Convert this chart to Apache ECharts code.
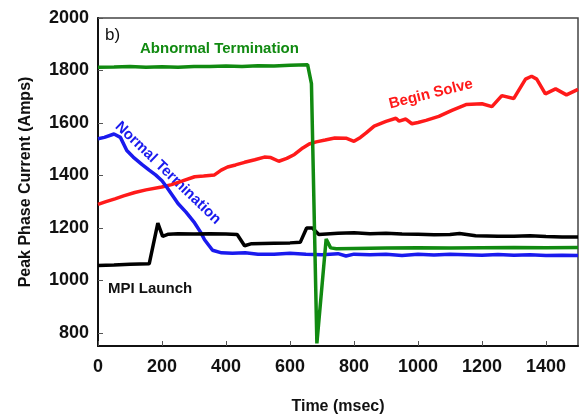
<!DOCTYPE html>
<html lang="en">
<head>
    <meta charset="UTF-8">
    <title>Peak Phase Current</title>
    <script src="https://cdn.jsdelivr.net/npm/echarts@6/dist/echarts.min.js"></script>
    <style>
        html, body { margin: 0; padding: 0; background: #fff; }
        #main { width: 579px; height: 420px; }
    </style>
</head>
<body>
<div id="main"></div>
<script>
    // values: [time msec, current amps]
    var abnormalTermination = [
        [0, 1812], [50, 1813], [100, 1815], [150, 1812], [200, 1814], [250, 1812], [300, 1815],
        [350, 1815], [400, 1817], [450, 1815], [500, 1818], [550, 1817], [600, 1820], [655, 1822],
        [667, 1750], [684, 760], [713, 1158], [727, 1124], [745, 1121], [800, 1122], [900, 1123],
        [1000, 1124], [1100, 1123], [1200, 1124], [1300, 1125], [1400, 1124], [1500, 1125]
    ];
    var beginSolve = [
        [0, 1290], [25, 1300], [53, 1311], [80, 1322], [115, 1335], [150, 1345], [199, 1356],
        [230, 1365], [262, 1378], [302, 1395], [330, 1398], [364, 1402], [385, 1420], [405, 1432],
        [430, 1440], [458, 1450], [490, 1460], [520, 1470], [540, 1468], [565, 1454], [590, 1465],
        [614, 1480], [640, 1505], [660, 1520], [682, 1528], [710, 1535], [740, 1543], [775, 1542],
        [800, 1530], [820, 1545], [838, 1562], [863, 1588], [900, 1606], [931, 1618], [941, 1607],
        [962, 1615], [981, 1597], [1000, 1602], [1025, 1610], [1065, 1625], [1106, 1648],
        [1150, 1670], [1200, 1673], [1231, 1662], [1262, 1704], [1299, 1693], [1336, 1767],
        [1355, 1778], [1371, 1767], [1398, 1711], [1430, 1730], [1464, 1707], [1500, 1728]
    ];
    var normalTermination = [
        [0, 1540], [20, 1545], [50, 1558], [70, 1545], [90, 1495], [110, 1470], [137, 1442],
        [160, 1420], [180, 1402], [200, 1380], [215, 1355], [235, 1320], [250, 1293], [275, 1260],
        [302, 1219], [320, 1185], [333, 1155], [358, 1115], [386, 1105], [420, 1103], [460, 1105],
        [500, 1100], [550, 1100], [600, 1103], [650, 1100], [700, 1098], [750, 1102], [775, 1093],
        [800, 1100], [850, 1098], [900, 1100], [950, 1095], [1000, 1100], [1050, 1097],
        [1100, 1100], [1150, 1098], [1200, 1096], [1250, 1099], [1300, 1096], [1350, 1098],
        [1400, 1095], [1450, 1096], [1500, 1095]
    ];
    var mpiLaunch = [
        [0, 1057], [50, 1059], [100, 1062], [160, 1063], [187, 1218], [202, 1168], [220, 1176],
        [250, 1178], [300, 1177], [350, 1178], [400, 1177], [435, 1175], [458, 1132], [480, 1140],
        [550, 1142], [600, 1143], [632, 1145], [652, 1200], [670, 1200], [690, 1175], [750, 1180],
        [800, 1182], [850, 1178], [900, 1180], [950, 1177], [1000, 1176], [1050, 1174],
        [1100, 1175], [1130, 1179], [1180, 1170], [1250, 1168], [1300, 1168], [1350, 1170],
        [1400, 1167], [1450, 1165], [1500, 1165]
    ];
    var yTickValues = [800, 1000, 1200, 1400, 1600, 1800, 2000];

    var chart = echarts.init(document.getElementById('main'));
    var font = '"Liberation Sans", Arial, sans-serif';

    function lineSeries(name, data, color) {
        return {
            name: name,
            type: 'line',
            data: data,
            showSymbol: false,
            lineStyle: { color: color, width: 3.5 },
            itemStyle: { color: color }
        };
    }

    // plain numbers, no thousands separator
    function plain(v) { return String(v); }

    var option = {
        animation: false,
        backgroundColor: '#fff',
        grid: {
            left: 98, right: 1, top: 18, bottom: 64,
            show: true, borderColor: '#444', borderWidth: 1.5
        },
        xAxis: {
            type: 'value',
            min: 0, max: 1500, interval: 200,
            name: 'Time (msec)',
            nameLocation: 'middle',
            nameGap: 53,
            nameTextStyle: { fontFamily: font, fontWeight: 'bold', fontSize: 16, color: '#111' },
            axisLine: { lineStyle: { color: '#111', width: 2 } },
            axisTick: { inside: true, length: 5, lineStyle: { color: '#555' } },
            axisLabel: { formatter: plain, showMaxLabel: false, margin: 12, fontFamily: font, fontWeight: 'bold', fontSize: 18, color: '#111' },
            splitLine: { show: false }
        },
        yAxis: {
            type: 'value',
            min: 750, max: 2000,
            name: 'Peak Phase Current (Amps)',
            nameLocation: 'middle',
            nameGap: 64,
            nameTextStyle: { fontFamily: font, fontWeight: 'bold', fontSize: 16, color: '#111' },
            axisLine: { lineStyle: { color: '#111', width: 2 } },
            axisTick: { inside: true, length: 5, customValues: yTickValues, lineStyle: { color: '#555' } },
            axisLabel: { formatter: plain, customValues: yTickValues, margin: 9, fontFamily: font, fontWeight: 'bold', fontSize: 18, color: '#111' },
            splitLine: { show: false }
        },
        graphic: [
            { type: 'text', left: 105, top: 27, style: { text: 'b)', font: '17px ' + font, fill: '#111' } },
            { type: 'text', left: 140, top: 41, style: { text: 'Abnormal Termination', font: 'bold 15px ' + font, fill: '#118a11' } },
            { type: 'text', x: 431, y: 94, rotation: 14 * Math.PI / 180,
              style: { text: 'Begin Solve', x: 0, y: 0, align: 'center', verticalAlign: 'middle', font: 'bold 15px ' + font, fill: '#ff1a1a' } },
            { type: 'text', x: 168, y: 173, rotation: -44 * Math.PI / 180,
              style: { text: 'Normal Termination', x: 0, y: 0, align: 'center', verticalAlign: 'middle', font: 'bold 15px ' + font, fill: '#1a1aee' } },
            { type: 'text', left: 108, top: 281, style: { text: 'MPI Launch', font: 'bold 15px ' + font, fill: '#111' } }
        ],
        series: [
            lineSeries('Begin Solve', beginSolve, '#ff1a1a'),
            lineSeries('Normal Termination', normalTermination, '#1a1aee'),
            lineSeries('MPI Launch', mpiLaunch, '#000'),
            lineSeries('Abnormal Termination', abnormalTermination, '#118a11')
        ]
    };
    chart.setOption(option);
</script>
</body>
</html>
